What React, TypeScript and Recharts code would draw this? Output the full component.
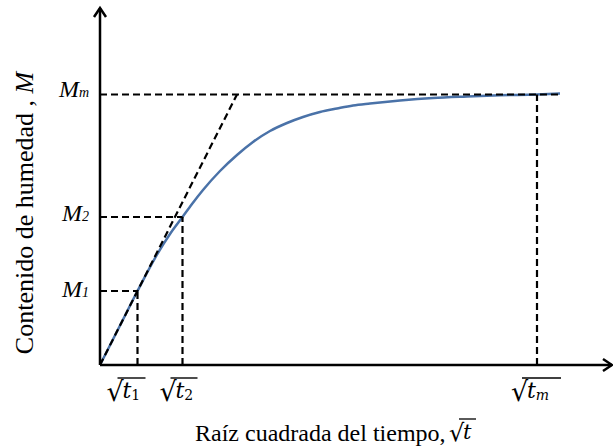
import { ComposedChart, Line, XAxis, YAxis, ReferenceLine, Label } from 'recharts'

// curve: sqrt(t) vs moisture content M (arbitrary units)
const CURVE_T = [0, 2, 3.75, 5.5, 7, 8.25, 9.2, 10.3, 12, 13.7, 15.3, 17, 18.7, 20.3, 22, 23.7, 25.3, 27, 30, 33.3, 36.7, 40, 43.7, 46]
const CURVE_M = [0, 3.95, 7.4, 10.7, 13.1, 14.8, 16.1, 17.5, 19.4, 21.0, 22.3, 23.4, 24.2, 24.8, 25.3, 25.65, 25.95, 26.15, 26.45, 26.7, 26.85, 26.97, 27.05, 27.15]

const T_TICKS = [3.75, 8.25, 43.7]
const T_SUBS = ['1', '2', 'm']
const M_TICKS = [7.4, 14.8, 27.05]
const M_SUBS = ['1', '2', 'm']
const TANGENT_END = 13.7
const CURVE_END = 46

const X_MAX = 51.2
const Y_MAX = 35.7

const data = CURVE_T.map((t, i) => ({ t, m: CURVE_M[i] }))

const SERIF = '"Liberation Serif", "Times New Roman", serif'
const MATH = '"DejaVu Serif", serif'
const BLUE = '#4a72a8'
const DASH = '7 4'

const Radical = ({ x, y, sub, bar }: { x: number; y: number; sub: string; bar: number }) => (
  <g>
    <text x={x - 1} y={y + 3} style={{ fontFamily: MATH, fontSize: 27 }} fill="#000">√</text>
    <line x1={x + 10} y1={y - 20} x2={x + 11 + bar} y2={y - 20} stroke="#000" strokeWidth={1.4} />
    <text x={x + 15} y={y} style={{ fontFamily: MATH, fontSize: 22, fontStyle: 'italic' }} fill="#000">
      t
      <tspan style={{ fontSize: 14, fontStyle: sub === 'm' ? 'italic' : 'normal' }} dy={2}>{sub}</tspan>
    </text>
  </g>
)

const X_OFFSETS = [-30, -22, -25]
const X_BARS = [27, 26, 38]

const XTick = (props: any) => {
  const { x, y, index } = props
  return <Radical x={x + X_OFFSETS[index]} y={y + 33} sub={T_SUBS[index]} bar={X_BARS[index]} />
}

const Y_DY = [6, 4, 2]

const YTick = (props: any) => {
  const { x, y, index } = props
  return (
    <text
      x={x - 11}
      y={y + Y_DY[index]}
      textAnchor="end"
      style={{ fontFamily: SERIF, fontSize: 24, fontStyle: 'italic' }}
      fill="#000"
    >
      M<tspan style={{ fontSize: 14 }}>{M_SUBS[index]}</tspan>
    </text>
  )
}

const ArrowAxis = (props: any) => {
  const { x1, y1, x2, y2 } = props
  const vertical = Math.abs(x1 - x2) < 1
  const tipX = vertical ? x1 : Math.max(x1, x2)
  const tipY = vertical ? Math.min(y1, y2) : y1
  const barbs = vertical
    ? `M${tipX - 6},${tipY + 9} L${tipX},${tipY} L${tipX + 6},${tipY + 9}`
    : `M${tipX - 9},${tipY - 6} L${tipX},${tipY} L${tipX - 9},${tipY + 6}`
  return (
    <g>
      <line x1={x1} y1={y1} x2={x2} y2={y2} stroke="#000" strokeWidth={2.5} />
      <path d={barbs} fill="none" stroke="#000" strokeWidth={2.5} />
    </g>
  )
}

export default function App() {
  return (
    <div style={{ position: 'absolute', left: 0, top: 0, background: '#fff' }}>
      <ComposedChart width={613} height={448} margin={{ top: 8, right: 1, bottom: 23, left: 40 }}>
        <XAxis
          dataKey="t"
          type="number"
          domain={[0, X_MAX]}
          ticks={T_TICKS}
          tick={XTick}
          axisLine={false}
          tickLine={false}
          tickSize={0}
          tickMargin={0}
          height={60}
          interval={0}
        >
          <Label
            content={() => (
              <g>
                <text x={195} y={441} style={{ fontFamily: SERIF, fontSize: 24 }} fill="#000">Raíz cuadrada del tiempo,</text>
                <text x={449} y={441} style={{ fontFamily: MATH, fontSize: 24 }} fill="#000">√</text>
                <line x1={459} y1={419} x2={476} y2={419} stroke="#000" strokeWidth={1.3} />
                <text x={463} y={439} style={{ fontFamily: MATH, fontSize: 21, fontStyle: 'italic' }} fill="#000">t</text>
              </g>
            )}
          />
        </XAxis>
        <YAxis
          type="number"
          domain={[0, Y_MAX]}
          ticks={M_TICKS}
          tick={YTick}
          axisLine={false}
          tickLine={false}
          tickSize={0}
          tickMargin={0}
          width={60}
          interval={0}
        >
          <Label
            content={() => (
              <text
                x={33}
                y={213}
                transform="rotate(-90 33 213)"
                textAnchor="middle"
                style={{ fontFamily: SERIF, fontSize: 26 }}
                fill="#000"
              >
                Contenido de humedad , <tspan style={{ fontStyle: 'italic' }}>M</tspan>
              </text>
            )}
          />
        </YAxis>
        <Line data={data} dataKey="m" type="monotone" dot={false} stroke={BLUE} strokeWidth={2.5} isAnimationActive={false} />
        <ReferenceLine segment={[{ x: 0, y: 0 }, { x: TANGENT_END, y: M_TICKS[2] }]} stroke="#000" strokeWidth={2.2} strokeDasharray={DASH} />
        <ReferenceLine segment={[{ x: 0, y: M_TICKS[2] }, { x: CURVE_END, y: M_TICKS[2] }]} stroke="#000" strokeWidth={2.2} strokeDasharray={DASH} />
        <ReferenceLine segment={[{ x: 0, y: M_TICKS[1] }, { x: T_TICKS[1], y: M_TICKS[1] }]} stroke="#000" strokeWidth={2.2} strokeDasharray={DASH} />
        <ReferenceLine segment={[{ x: 0, y: M_TICKS[0] }, { x: T_TICKS[0], y: M_TICKS[0] }]} stroke="#000" strokeWidth={2.2} strokeDasharray={DASH} />
        <ReferenceLine segment={[{ x: T_TICKS[0], y: 0 }, { x: T_TICKS[0], y: M_TICKS[0] }]} stroke="#000" strokeWidth={2.2} strokeDasharray={DASH} />
        <ReferenceLine segment={[{ x: T_TICKS[1], y: 0 }, { x: T_TICKS[1], y: M_TICKS[1] }]} stroke="#000" strokeWidth={2.2} strokeDasharray={DASH} />
        <ReferenceLine segment={[{ x: T_TICKS[2], y: 0 }, { x: T_TICKS[2], y: M_TICKS[2] }]} stroke="#000" strokeWidth={2.2} strokeDasharray={DASH} />
        <ReferenceLine segment={[{ x: 0, y: 0 }, { x: X_MAX, y: 0 }]} shape={ArrowAxis} />
        <ReferenceLine segment={[{ x: 0, y: 0 }, { x: 0, y: Y_MAX }]} shape={ArrowAxis} />
      </ComposedChart>
    </div>
  )
}
